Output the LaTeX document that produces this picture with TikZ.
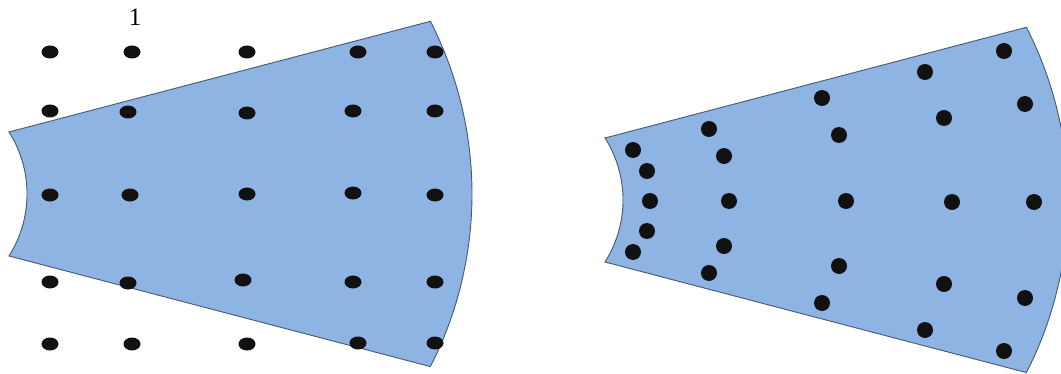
\documentclass[tikz,border=0pt]{standalone}
\usepackage{fontspec}
\setmainfont{Liberation Serif}
\usetikzlibrary{shapes.geometric}
\definecolor{sectorfill}{HTML}{8EB4E3}
\definecolor{sectorline}{RGB}{70,88,112}
\definecolor{dotcol}{RGB}{17,17,17}
\tikzset{
  sector/.style={fill=sectorfill, draw=sectorline, line width=0.9pt},
  edot/.style={ellipse, fill=dotcol, draw=none, minimum width=17pt, minimum height=13pt, inner sep=0pt},
  cdot/.style={circle, fill=dotcol, draw=none, minimum size=16pt, inner sep=0pt},
  lbl/.style={font=\fontsize{25}{30}\selectfont, inner sep=0pt}
}
\newcommand{\sectorpath}{(9,241) -- (430.4,351.7) arc[start angle=27.1, end angle=-27.1, radius=379pt] -- (9,117) arc[start angle=-32.4, end angle=32.4, radius=115.8pt] -- cycle}
\begin{document}
\begin{tikzpicture}[x=1pt,y=1pt]
\useasboundingbox (0,0) rectangle (1061,373);
\clip (0,0) rectangle (1061,373);
% left sector
\path[sector] \sectorpath;
% right sector
\begin{scope}[shift={(596,-6)}]
\path[sector] \sectorpath;
\end{scope}
% dots and label, pixel coordinates (y down)
\begin{scope}[yshift=373pt, y=-1pt]
\node[lbl] (one) at (135,17) {1};
% left grid
\foreach \n/\x/\y in {
  a1/50/52, a2/132/52, a3/247/52, a4/358/52, a5/435/52,
  b1/50/111, b2/128/112, b3/247/113, b4/353/111, b5/435/111,
  c1/50/195, c2/130/195, c3/247/194, c4/353/193, c5/435/195,
  d1/50/282, d2/128/283, d3/243/280, d4/353/282, d5/435/282,
  e1/50/344, e2/132/344, e3/247/344, e4/358/343, e5/435/343}
  \node[edot] (L\n) at (\x,\y) {};
% right polar grid
\foreach \n/\x/\y in {
  p1/633/150, p2/647/171, p3/650/201, p4/647/231, p5/633/252,
  q1/709/129, q2/724/156, q3/729/201, q4/724/246, q5/709/273,
  r1/822/98, r2/839/135, r3/846/201, r4/839/266, r5/822/303,
  s1/925/72, s2/944/118, s3/952/202, s4/944/284, s5/925/330,
  t1/1004/51, t2/1025/104, t3/1034/202, t4/1025/298, t5/1004/351}
  \node[cdot] (R\n) at (\x,\y) {};
\end{scope}
\end{tikzpicture}
\end{document}
